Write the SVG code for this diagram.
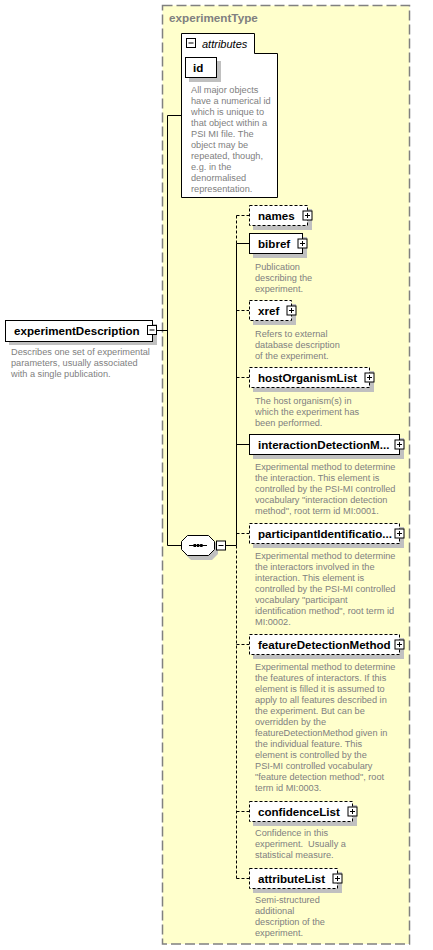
<svg xmlns="http://www.w3.org/2000/svg" width="433" height="950" viewBox="0 0 433 950">
  <style>
    .lbl { font-family: "Liberation Sans", Arial, sans-serif; font-weight: bold; font-size: 11.6px; fill: #000; }
    .doc { font-family: "Liberation Sans", Arial, sans-serif; font-size: 9.2px; fill: #808080; white-space: pre; }
    .ttl { font-family: "Liberation Sans", Arial, sans-serif; font-weight: bold; font-size: 11.7px; fill: #808080; }
    .ital { font-family: "Liberation Sans", Arial, sans-serif; font-style: italic; font-size: 11px; fill: #000; }
    .box { fill: #fff; stroke: #000; stroke-width: 1; }
    .opt { stroke-dasharray: 3 2; }
    .shadow { fill: #c0c0c0; }
    .line { fill: none; stroke: #000; stroke-width: 1; }
    .dash { stroke-dasharray: 3 2; }
    .icon { fill: #fff; stroke: #000; stroke-width: 1; }
  </style>
  <defs>
    <g id="plus">
      <rect class="icon" x="-4.5" y="-4.5" width="9" height="9"/>
      <path class="line" d="M-2.5,0 H2.5 M0,-2.5 V2.5"/>
    </g>
    <g id="minus">
      <rect class="icon" x="-4.5" y="-4.5" width="9" height="9"/>
      <path class="line" d="M-2.5,0 H2.5"/>
    </g>
  </defs>

  <!-- complex type frame -->
  <g id="experimentType">
    <rect x="162.5" y="5.5" width="247" height="938.5" fill="#ffffcc" stroke="#808080" stroke-width="1.5" stroke-dasharray="10 4"/>
    <text class="ttl" x="169" y="22">experimentType</text>
  </g>

  <!-- connectors -->
  <g id="connectors">
    <path class="line" d="M157,330.5 H167.5 M167.5,115.5 V545.5 M167.5,115.5 H181 M167.5,545.5 H181 M225.5,545.5 H236.5"/>
    <path class="line dash" d="M236.5,215.5 V243.5 M236.5,545.5 V878.5"/>
    <path class="line" d="M236.5,243.5 V545.5"/>
    <path class="line dash" d="M236.5,215.5 H249"/>
    <path class="line" d="M236.5,243.5 H249"/>
    <path class="line dash" d="M236.5,310.5 H249"/>
    <path class="line dash" d="M236.5,377.5 H249"/>
    <path class="line" d="M236.5,444.5 H249"/>
    <path class="line dash" d="M236.5,533.5 H249"/>
    <path class="line dash" d="M236.5,644.5 H249"/>
    <path class="line dash" d="M236.5,811.5 H249"/>
    <path class="line dash" d="M236.5,878.5 H249"/>
  </g>

  <!-- root element -->
  <g id="experimentDescription">
    <rect class="shadow" x="9" y="324" width="148" height="21"/>
    <rect class="box" x="5.5" y="320.5" width="147" height="21"/>
    <text class="lbl" x="14" y="335">experimentDescription</text>
    <use href="#minus" x="152" y="330"/>
    <text class="doc" x="11" y="355">Describes one set of experimental</text>
    <text class="doc" x="11" y="366">parameters, usually associated</text>
    <text class="doc" x="11" y="377">with a single publication.</text>
  </g>

  <!-- attribute group -->
  <g id="attributes">
    <path class="box" d="M181.5,33.5 H254.5 V53.5 H277.5 V197.5 H181.5 Z"/>
    <use href="#minus" x="191" y="43"/>
    <text class="ital" x="202" y="47.5">attributes</text>
    <rect class="shadow" x="189" y="61" width="32" height="21"/>
    <rect class="box" x="185.5" y="57.5" width="31" height="20"/>
    <text class="lbl" x="193" y="72">id</text>
    <text class="doc" x="191" y="93">All major objects</text>
    <text class="doc" x="191" y="104">have a numerical id</text>
    <text class="doc" x="191" y="115">which is unique to</text>
    <text class="doc" x="191" y="126">that object within a</text>
    <text class="doc" x="191" y="137">PSI MI file. The</text>
    <text class="doc" x="191" y="148">object may be</text>
    <text class="doc" x="191" y="159">repeated, though,</text>
    <text class="doc" x="191" y="170">e.g. in the</text>
    <text class="doc" x="191" y="181">denormalised</text>
    <text class="doc" x="191" y="192">representation.</text>
  </g>

  <!-- sequence compositor -->
  <g id="sequence">
    <path class="shadow" d="M191,539 H212 L218,545 V554 L212,560 H191 L185,554 V545 Z"/>
    <path class="box" d="M187.5,535.5 H208.5 L214.5,541.5 V549.5 L208.5,555.5 H187.5 L181.5,549.5 V541.5 Z"/>
    <path class="line" d="M189,545.5 H207"/>
    <rect x="193.5" y="544" width="2.5" height="3" fill="#000"/>
    <rect x="196.8" y="544" width="2.5" height="3" fill="#000"/>
    <rect x="200.1" y="544" width="2.5" height="3" fill="#000"/>
    <use href="#minus" x="221" y="545.5"/>
  </g>

  <!-- child elements -->
  <g id="names">
    <rect class="shadow" x="253" y="209" width="59" height="21"/>
    <rect class="box opt" x="249.5" y="205.5" width="58" height="20"/>
    <text class="lbl" x="258" y="220">names</text>
    <use href="#plus" x="307.5" y="215.5"/>
  </g>

  <g id="bibref">
    <rect class="shadow" x="253" y="237" width="54" height="21"/>
    <rect class="box" x="249.5" y="233.5" width="53" height="20"/>
    <text class="lbl" x="258" y="248">bibref</text>
    <use href="#plus" x="302.5" y="243.5"/>
    <text class="doc" x="255" y="270">Publication</text>
    <text class="doc" x="255" y="281">describing the</text>
    <text class="doc" x="255" y="292">experiment.</text>
  </g>

  <g id="xref">
    <rect class="shadow" x="253" y="304" width="43" height="21"/>
    <rect class="box opt" x="249.5" y="300.5" width="42" height="20"/>
    <text class="lbl" x="258" y="315">xref</text>
    <use href="#plus" x="291.5" y="310.5"/>
    <text class="doc" x="255" y="337">Refers to external</text>
    <text class="doc" x="255" y="348">database description</text>
    <text class="doc" x="255" y="359">of the experiment.</text>
  </g>

  <g id="hostOrganismList">
    <rect class="shadow" x="253" y="371" width="121" height="21"/>
    <rect class="box opt" x="249.5" y="367.5" width="120" height="20"/>
    <text class="lbl" x="258" y="382">hostOrganismList</text>
    <use href="#plus" x="369.5" y="377.5"/>
    <text class="doc" x="255" y="404">The host organism(s) in</text>
    <text class="doc" x="255" y="415">which the experiment has</text>
    <text class="doc" x="255" y="426">been performed.</text>
  </g>

  <g id="interactionDetectionMethod">
    <rect class="shadow" x="253" y="438" width="151" height="21"/>
    <rect class="box" x="249.5" y="434.5" width="150" height="20"/>
    <text class="lbl" x="258" y="449">interactionDetectionM...</text>
    <use href="#plus" x="399.5" y="444.5"/>
    <text class="doc" x="255" y="470">Experimental method to determine</text>
    <text class="doc" x="255" y="481">the interaction. This element is</text>
    <text class="doc" x="255" y="492">controlled by the PSI-MI controlled</text>
    <text class="doc" x="255" y="503">vocabulary "interaction detection</text>
    <text class="doc" x="255" y="514">method", root term id MI:0001.</text>
  </g>

  <g id="participantIdentificationMethod">
    <rect class="shadow" x="253" y="527" width="151" height="21"/>
    <rect class="box opt" x="249.5" y="523.5" width="150" height="20"/>
    <text class="lbl" x="258" y="538">participantIdentificatio...</text>
    <use href="#plus" x="399.5" y="533.5"/>
    <text class="doc" x="255" y="559">Experimental method to determine</text>
    <text class="doc" x="255" y="570">the interactors involved in the</text>
    <text class="doc" x="255" y="581">interaction. This element is</text>
    <text class="doc" x="255" y="592">controlled by the PSI-MI controlled</text>
    <text class="doc" x="255" y="603">vocabulary "participant</text>
    <text class="doc" x="255" y="614">identification method", root term id</text>
    <text class="doc" x="255" y="625">MI:0002.</text>
  </g>

  <g id="featureDetectionMethod">
    <rect class="shadow" x="253" y="638" width="151" height="21"/>
    <rect class="box opt" x="249.5" y="634.5" width="150" height="20"/>
    <text class="lbl" x="258" y="649">featureDetectionMethod</text>
    <use href="#plus" x="399.5" y="644.5"/>
    <text class="doc" x="255" y="670">Experimental method to determine</text>
    <text class="doc" x="255" y="681">the features of interactors. If this</text>
    <text class="doc" x="255" y="692">element is filled it is assumed to</text>
    <text class="doc" x="255" y="703">apply to all features described in</text>
    <text class="doc" x="255" y="714">the experiment. But can be</text>
    <text class="doc" x="255" y="725">overridden by the</text>
    <text class="doc" x="255" y="736">featureDetectionMethod given in</text>
    <text class="doc" x="255" y="747">the individual feature. This</text>
    <text class="doc" x="255" y="758">element is controlled by the</text>
    <text class="doc" x="255" y="769">PSI-MI controlled vocabulary</text>
    <text class="doc" x="255" y="780">"feature detection method", root</text>
    <text class="doc" x="255" y="791">term id MI:0003.</text>
  </g>

  <g id="confidenceList">
    <rect class="shadow" x="253" y="805" width="104" height="21"/>
    <rect class="box opt" x="249.5" y="801.5" width="103" height="20"/>
    <text class="lbl" x="258" y="816">confidenceList</text>
    <use href="#plus" x="352.5" y="811.5"/>
    <text class="doc" x="255" y="836">Confidence in this</text>
    <text class="doc" x="255" y="847">experiment.  Usually a</text>
    <text class="doc" x="255" y="858">statistical measure.</text>
  </g>

  <g id="attributeList">
    <rect class="shadow" x="253" y="872" width="89" height="21"/>
    <rect class="box opt" x="249.5" y="868.5" width="88" height="20"/>
    <text class="lbl" x="258" y="883">attributeList</text>
    <use href="#plus" x="337.5" y="878.5"/>
    <text class="doc" x="255" y="903">Semi-structured</text>
    <text class="doc" x="255" y="914">additional</text>
    <text class="doc" x="255" y="925">description of the</text>
    <text class="doc" x="255" y="936">experiment.</text>
  </g>
</svg>
